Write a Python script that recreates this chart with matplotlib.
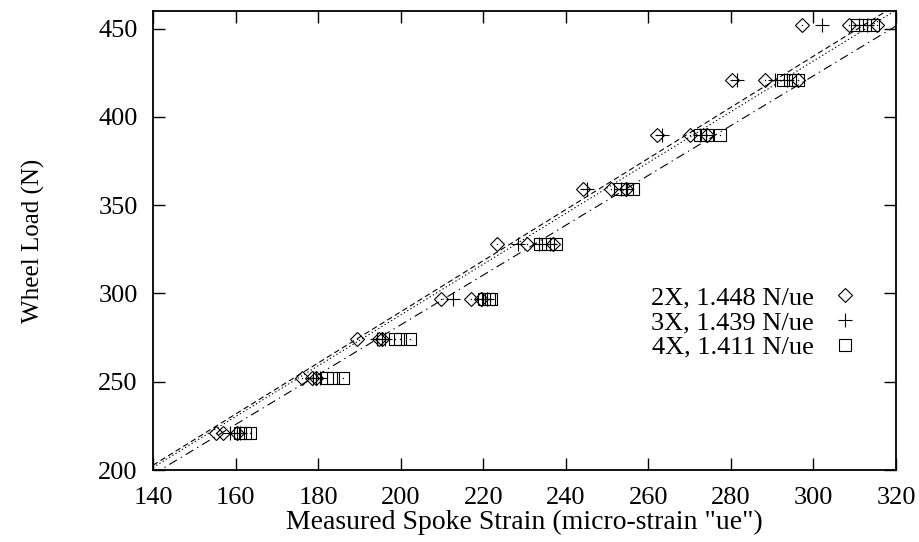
import matplotlib
matplotlib.use("Agg")
import matplotlib.pyplot as plt
import numpy as np

plt.rcParams['font.family'] = ['Liberation Serif', 'DejaVu Serif']

# wheel load levels (N)
loads = [221, 252, 274, 297, 328, 359, 390, 421, 452]

# measured spoke strain (ue), three spokes per load level
strain_2x = [[155.3, 157.0, 160.3],
             [176.0, 178.6, 179.4],
             [189.4, 194.8, 195.5],
             [209.8, 217.0, 219.5],
             [223.3, 230.5, 237.0],
             [244.2, 251.0, 254.5],
             [262.0, 270.1, 274.2],
             [280.2, 288.3, 296.2],
             [297.2, 308.5, 315.5]]
strain_3x = [[158.7, 160.3, 161.0],
             [178.8, 179.6, 180.5],
             [194.2, 195.6, 196.3],
             [212.7, 219.8, 220.8],
             [228.5, 233.5, 236.2],
             [245.1, 253.5, 254.6],
             [263.2, 272.5, 274.0],
             [281.4, 290.7, 293.5],
             [302.0, 311.0, 313.0]]
strain_4x = [[161.1, 162.3, 163.5],
             [182.1, 183.7, 186.1],
             [198.6, 199.8, 202.3],
             [220.2, 221.4, 222.0],
             [233.7, 235.8, 237.6],
             [253.1, 254.8, 256.3],
             [272.5, 274.2, 277.4],
             [292.7, 294.3, 296.2],
             [310.5, 312.5, 314.5]]

labels = ['2X, 1.448 N/ue', '3X, 1.439 N/ue', '4X, 1.411 N/ue']
slopes = [1.448, 1.439, 1.411]
markers = ['D', '+', 's']
msizes = [7, 9.5, 8.5]
dash_styles = [(0, (5, 3)), (0, (1.2, 2.2)), (0, (8, 4, 1.2, 4))]

x_ticks = np.arange(140, 321, 20)
y_ticks = np.arange(200, 451, 50)

FS = 19

fig = plt.figure(figsize=(9.2, 5.42), dpi=100)
ax = fig.add_axes([0.1663, 0.1328, 0.8076, 0.8469])

handles = []
for strains, lab, mk, ms in zip([strain_2x, strain_3x, strain_4x], labels, markers, msizes):
    xs = np.array(strains).ravel()
    ys = np.repeat(loads, 3)
    h, = ax.plot(xs, ys, linestyle='none', marker=mk, markersize=ms,
                 markerfacecolor='none', markeredgecolor='black',
                 markeredgewidth=0.8, label=lab)
    if mk != '+':
        ax.plot(xs, ys, linestyle='none', marker='o', markersize=1.0,
                markerfacecolor='black', markeredgecolor='none')
    handles.append(h)

# fitted lines through the origin
xline = np.linspace(140, 320, 200)
for k, ls in zip(slopes, dash_styles):
    ax.plot(xline, k * xline, color='black', linewidth=0.8, linestyle=ls)

ax.set_xlim(140, 320)
ax.set_ylim(200, 460)
ax.set_xticks(x_ticks)
ax.set_yticks(y_ticks)
ax.tick_params(direction='in', length=8.5, width=1.0, top=True, right=True,
               labelsize=FS, colors='black')
ax.tick_params(axis='x', pad=12.5)
ax.tick_params(axis='y', pad=11)
for sp in ax.spines.values():
    sp.set_linewidth(1.3)

ax.set_xlabel('Measured Spoke Strain (micro-strain "ue")', fontsize=20, labelpad=0.5)
ax.set_ylabel('Wheel Load (N)', fontsize=18, labelpad=38)

leg = ax.legend(handles=handles, loc='upper right', bbox_to_anchor=(0.971, 0.43),
                markerfirst=False, frameon=False, fontsize=FS,
                handlelength=1.2, handletextpad=0.6, labelspacing=0.05,
                borderpad=0)

fig.savefig('out.png', dpi=100)
